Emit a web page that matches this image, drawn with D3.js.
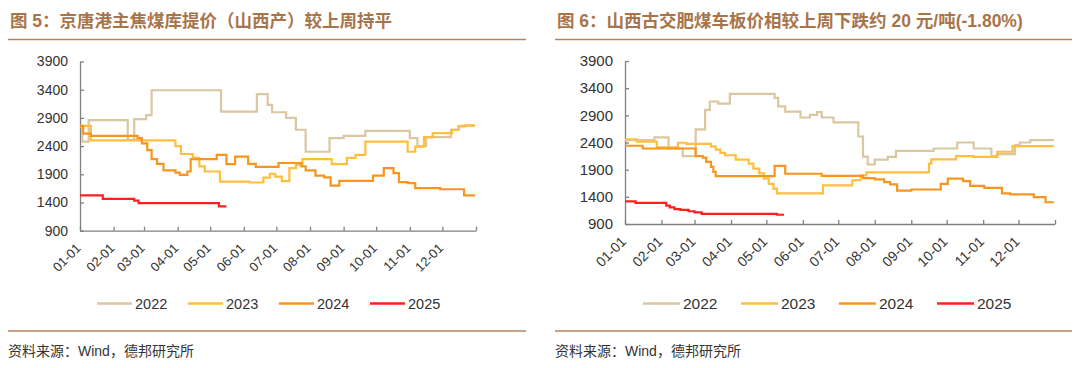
<!DOCTYPE html>
<html lang="zh">
<head>
    <meta charset="UTF-8">
    <title>焦煤价格</title>
    <script src="https://cdn.jsdelivr.net/npm/d3@7"></script>
    <style>
        body {margin: 0; background: #fff;}
        text {font-family: "Liberation Sans", Arial, "Noto Sans CJK SC", sans-serif; fill: #333;}
        .title {font-weight: bold; fill: #a8744a;}
        .axis path, .axis line {stroke: #808080; stroke-width: 1.3;}
    </style>
</head>
<body>
<script>
    // ---- data ----
    const yearNames = ["2022", "2023", "2024", "2025"];
    const yTicks = [900, 1400, 1900, 2400, 2900, 3400, 3900];
    const monthLabels = ["01-01", "02-01", "03-01", "04-01", "05-01", "06-01",
        "07-01", "08-01", "09-01", "10-01", "11-01", "12-01"];

    // 图5 京唐港主焦煤库提价（山西产）, [MM-DD, 元/吨]
    const jt2022 = [["01-01", 2750], ["01-03", 2480], ["01-09", 2860], ["02-14", 2510], ["02-20", 2880],
        ["03-03", 2950], ["03-08", 3390], ["05-11", 3010], ["06-13", 3320], ["06-23", 3130], ["06-27", 3000],
        ["07-10", 2900], ["07-19", 2690], ["07-28", 2300], ["08-19", 2540], ["09-01", 2580], ["09-21", 2670],
        ["11-01", 2540], ["11-08", 2400], ["11-16", 2560], ["12-09", 2690], ["12-16", 2760], ["12-31", 2760]];
    const jt2023 = [["01-01", 2760], ["01-11", 2500], ["03-30", 2400], ["04-04", 2260], ["04-15", 2190],
        ["04-21", 2040], ["04-26", 1950], ["05-10", 1770], ["06-06", 1755], ["06-19", 1840], ["06-25", 1910],
        ["06-30", 1860], ["07-06", 1780], ["07-13", 2010], ["07-19", 2070], ["07-25", 2170], ["08-21", 2080],
        ["09-04", 2190], ["09-12", 2245], ["09-21", 2480], ["10-30", 2300], ["11-06", 2390], ["11-14", 2560],
        ["11-22", 2630], ["12-10", 2690], ["12-16", 2750], ["12-22", 2770], ["12-31", 2770]];
    const jt2024 = [["01-01", 2760], ["01-04", 2620], ["01-11", 2580], ["02-23", 2540], ["02-27", 2450],
        ["03-04", 2330], ["03-08", 2170], ["03-13", 2085], ["03-19", 1970], ["03-30", 1930], ["04-03", 1890],
        ["04-10", 1950], ["04-13", 2170], ["05-07", 2245], ["05-16", 2080], ["05-24", 2215], ["06-05", 2085],
        ["06-12", 2030], ["07-03", 2100], ["07-24", 2040], ["07-28", 1970], ["08-06", 1875], ["08-14", 1845],
        ["08-20", 1700], ["08-28", 1785], ["09-28", 1875], ["10-08", 2010], ["10-17", 1920], ["10-22", 1760],
        ["10-30", 1745], ["11-06", 1655], ["11-29", 1635], ["12-21", 1525], ["12-31", 1525]];
    const jt2025 = [["01-01", 1525], ["01-22", 1465], ["02-20", 1435], ["02-24", 1390], ["05-09", 1330],
        ["05-16", 1330]];

    // 图6 山西古交肥煤车板价
    const gj2022 = [["01-01", 2445], ["01-26", 2495], ["02-07", 2290], ["02-19", 2150], ["03-02", 2640],
        ["03-10", 3000], ["03-14", 3155], ["03-21", 3115], ["03-31", 3295], ["05-08", 3220], ["05-11", 3065],
        ["05-17", 2970], ["05-30", 2860], ["06-07", 2910], ["06-13", 2960], ["06-17", 2860], ["06-27", 2770],
        ["07-18", 2510], ["07-22", 2140], ["07-26", 1995], ["08-01", 2085], ["08-12", 2135], ["08-19", 2245],
        ["09-20", 2290], ["10-10", 2400], ["10-24", 2290], ["11-08", 2150], ["11-13", 2185], ["11-28", 2350],
        ["12-02", 2400], ["12-11", 2445], ["12-31", 2445]];
    const gj2023 = [["01-01", 2460], ["01-11", 2415], ["01-28", 2310], ["02-15", 2395], ["02-22", 2375],
        ["03-15", 2330], ["03-19", 2270], ["03-23", 2210], ["03-27", 2165], ["04-05", 2085], ["04-16", 2010],
        ["04-20", 1920], ["04-25", 1830], ["04-29", 1735], ["05-03", 1640], ["05-07", 1550], ["05-10", 1465],
        ["06-18", 1610], ["07-13", 1705], ["07-20", 1795], ["07-25", 1850], ["09-16", 2010], ["09-18", 2090],
        ["10-09", 2150], ["10-24", 2135], ["11-13", 2230], ["11-26", 2335], ["12-31", 2335]];
    const gj2024 = [["01-01", 2340], ["01-16", 2290], ["03-02", 2150], ["03-08", 2120], ["03-11", 2045],
        ["03-15", 1950], ["03-17", 1860], ["03-19", 1780], ["05-08", 1970], ["05-17", 1825], ["06-17", 1785],
        ["07-22", 1745], ["08-01", 1720], ["08-09", 1670], ["08-14", 1630], ["08-20", 1515], ["09-01", 1535],
        ["09-26", 1640], ["10-02", 1735], ["10-15", 1690], ["10-21", 1600], ["11-02", 1565], ["11-17", 1465],
        ["11-24", 1445], ["12-14", 1395], ["12-24", 1300], ["12-31", 1300]];
    const gj2025 = [["01-01", 1315], ["01-10", 1290], ["02-05", 1240], ["02-08", 1205], ["02-12", 1175],
        ["02-17", 1160], ["02-24", 1135], ["03-01", 1115], ["03-07", 1085], ["05-10", 1070], ["05-16", 1070]];

    // ---- drawing ----
    const colors = ["#dac7a2", "#ffbf3c", "#f8951f", "#ff1f1f"];
    const svg = d3.select("body").append("svg").attr("width", 1080).attr("height", 368);
    const parse = s => d3.timeParse("%Y-%m-%d")("2023-" + s);

    const panels = [
        {
            title: "图 5：京唐港主焦煤库提价（山西产）较上周持平",
            series: [jt2022, jt2023, jt2024, jt2025],
            left: 8, right: 526, x0: 80, x1: 476, y0: 61.5, y1: 230.7,
            yFont: 14, xFont: 13, legX: 97, legStep: 91, legLen: 35, legFont: 14.5
        },
        {
            title: "图 6：山西古交肥煤车板价相较上周下跌约 20 元/吨(-1.80%)",
            series: [gj2022, gj2023, gj2024, gj2025],
            left: 555, right: 1072, x0: 625, x1: 1055, y0: 61, y1: 224,
            yFont: 15, xFont: 14, legX: 643, legStep: 98, legLen: 37, legFont: 15.5
        }
    ];

    panels.forEach(drawPanel);

    function drawPanel(p) {
        const g = svg.append("g");

        g.append("text").attr("class", "title")
            .attr("x", p.left + 2).attr("y", 27)
            .style("font-size", "17.5px")
            .text(p.title);
        [39.5, 331].forEach(yy => g.append("line")
            .attr("x1", p.left).attr("x2", p.right).attr("y1", yy).attr("y2", yy)
            .style("stroke", "#b9855c").style("stroke-width", 1.6));
        g.append("text")
            .attr("x", p.left).attr("y", 356)
            .style("font-size", "14px")
            .text("资料来源：Wind，德邦研究所");

        const x = d3.scaleTime()
            .domain([parse("01-01"), new Date(2024, 0, 1)])
            .range([p.x0, p.x1]);
        const y = d3.scaleLinear().domain([900, 3900]).range([p.y1, p.y0]);

        const yAxis = g.append("g").attr("class", "axis")
            .attr("transform", `translate(${p.x0},0)`)
            .call(d3.axisLeft(y).tickValues(yTicks).tickFormat(d3.format("d"))
                .tickSize(-4).tickSizeOuter(0).tickPadding(12));
        yAxis.selectAll("text").style("font-size", p.yFont + "px").style("fill", "#333");

        const xTicks = monthLabels.map(parse).concat([new Date(2024, 0, 1)]);
        const xAxis = g.append("g").attr("class", "axis")
            .attr("transform", `translate(0,${p.y1})`)
            .call(d3.axisBottom(x).tickValues(xTicks).tickSize(-4).tickSizeOuter(0)
                .tickFormat((d, i) => i < monthLabels.length ? monthLabels[i] : ""));
        xAxis.selectAll("text")
            .attr("x", 0).attr("y", 0).attr("dy", "0.35em")
            .attr("text-anchor", "end")
            .attr("transform", "translate(-2,15) rotate(-45)")
            .style("font-size", p.xFont + "px").style("fill", "#333");

        const line = d3.line()
            .x(d => x(parse(d[0])))
            .y(d => y(d[1]))
            .curve(d3.curveStepAfter);

        g.selectAll("path.series")
            .data(p.series)
            .enter()
            .append("path")
            .attr("class", "series")
            .attr("d", line)
            .style("fill", "none")
            .style("stroke", (d, i) => colors[i])
            .style("stroke-width", 2.2);

        const leg = g.selectAll("g.leg")
            .data(yearNames)
            .enter()
            .append("g")
            .attr("class", "leg")
            .attr("transform", (d, i) => `translate(${p.legX + i * p.legStep},303.5)`);
        leg.append("line")
            .attr("x1", 0).attr("x2", p.legLen)
            .style("stroke", (d, i) => colors[i]).style("stroke-width", 2.5);
        leg.append("text")
            .attr("x", p.legLen + 3).attr("dy", "0.35em")
            .style("font-size", p.legFont + "px")
            .text(d => d);
    }
</script>
</body>
</html>
